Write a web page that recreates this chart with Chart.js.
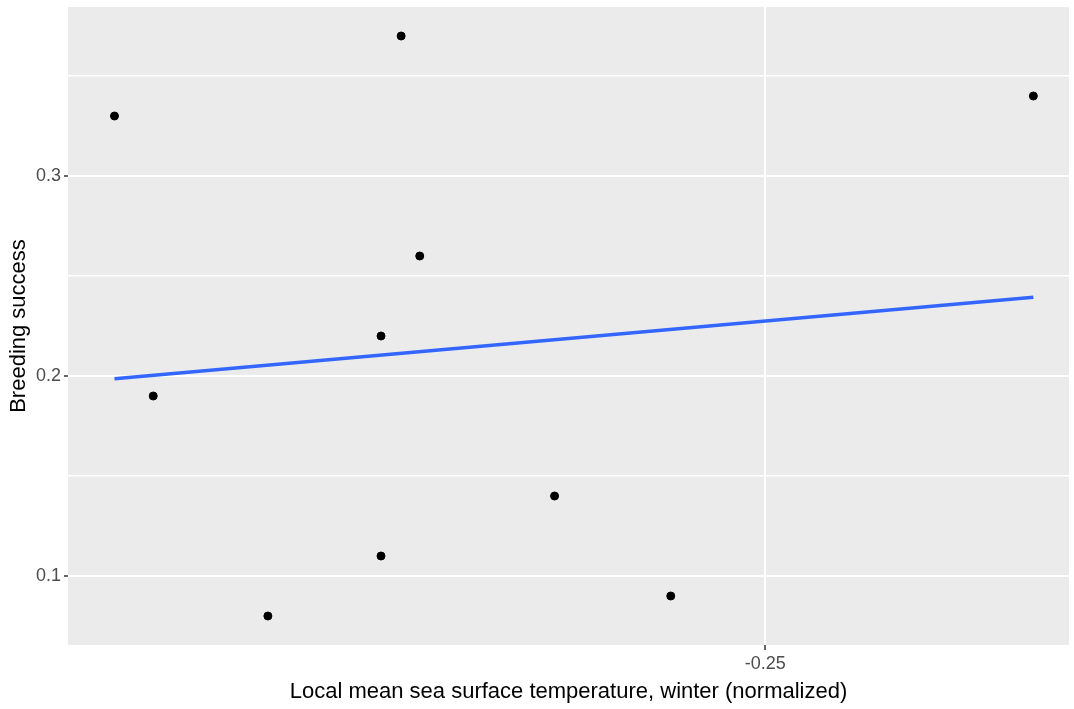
<!DOCTYPE html>
<html>
<head>
<meta charset="utf-8">
<title>Breeding success vs winter SST</title>
<script src="https://cdn.jsdelivr.net/npm/chart.js@4"></script>
<style>
  html, body { margin: 0; padding: 0; background: #fff; }
  #sst-chart { display: block; }
</style>
</head>
<body>
<canvas id="sst-chart" width="1074" height="709"></canvas>
<script>
const ctx = document.getElementById("sst-chart");

// observations: normalized winter SST vs breeding success
const sstWinter = [-0.2920, -0.2895, -0.2821, -0.2748, -0.2748, -0.2735, -0.2723, -0.2636, -0.2561, -0.2327];
const breedingSuccess = [0.33, 0.19, 0.08, 0.22, 0.11, 0.37, 0.26, 0.14, 0.09, 0.34];

// linear fit, ends of the line
const fitX = [-0.2920, -0.2327];
const fitY = [0.1986, 0.2394];

const yMajor = [0.1, 0.2, 0.3];
const yMinor = [0.15, 0.25, 0.35];
const xMajor = [-0.25];

const points = sstWinter.map((x, i) => ({ x: x, y: breedingSuccess[i] }));
const fitLine = fitX.map((x, i) => ({ x: x, y: fitY[i] }));

const isMajorY = v => yMajor.some(m => Math.abs(m - v) < 1e-9);

// grey panel behind the grid, ggplot style
const panelBg = {
    id: "panelBg",
    beforeDraw(chart) {
        const a = chart.chartArea;
        chart.ctx.save();
        chart.ctx.fillStyle = "#EBEBEB";
        chart.ctx.fillRect(a.left, a.top, a.right - a.left, a.bottom - a.top);
        chart.ctx.restore();
    }
};

// no extra room for half tick labels at the panel edges
function noEdgePadding(scale) {
    scale.paddingTop = 0;
    scale.paddingBottom = 0;
    scale.paddingLeft = 0;
    scale.paddingRight = 0;
}

const chart = new Chart(ctx, {
    type: "scatter",
    data: {
        datasets: [
            {
                label: "Breeding success",
                data: points,
                backgroundColor: "#000000",
                borderColor: "#000000",
                pointRadius: 4,
                pointHoverRadius: 4,
                order: 1
            },
            {
                label: "Fit",
                type: "line",
                data: fitLine,
                borderColor: "#3366FF",
                borderWidth: 3.5,
                pointRadius: 0,
                fill: false,
                order: 2
            }
        ]
    },
    options: {
        responsive: false,
        animation: false,
        devicePixelRatio: 1,
        layout: { padding: { top: 7, right: 4, left: 0, bottom: 0 } },
        plugins: {
            legend: { display: false },
            tooltip: { enabled: false }
        },
        scales: {
            x: {
                type: "linear",
                min: -0.295,
                max: -0.2304,
                afterBuildTicks: scale => { scale.ticks = xMajor.map(v => ({ value: v })); },
                afterFit: scale => { scale.height = 64; noEdgePadding(scale); },
                border: { display: false },
                grid: {
                    color: "#FFFFFF",
                    lineWidth: 2,
                    tickLength: 5,
                    tickColor: "#333333",
                    tickWidth: 1.5
                },
                ticks: {
                    autoSkip: false,
                    maxRotation: 0,
                    padding: 3,
                    color: "#4D4D4D",
                    font: { family: "Liberation Sans, Arial, sans-serif", size: 18 },
                    callback: v => v.toFixed(2)
                },
                title: {
                    display: true,
                    text: "Local mean sea surface temperature, winter (normalized)",
                    color: "#000000",
                    font: { family: "Liberation Sans, Arial, sans-serif", size: 22 },
                    padding: { top: 0, bottom: 4 }
                }
            },
            y: {
                type: "linear",
                min: 0.0655,
                max: 0.3845,
                afterBuildTicks: scale => {
                    scale.ticks = yMajor.concat(yMinor).sort((a, b) => a - b).map(v => ({ value: v }));
                },
                afterFit: scale => { scale.width = 68; noEdgePadding(scale); },
                border: { display: false },
                grid: {
                    color: "#FFFFFF",
                    lineWidth: c => (c.tick && isMajorY(c.tick.value)) ? 2 : 1.5,
                    tickLength: 4,
                    tickColor: c => (c.tick && isMajorY(c.tick.value)) ? "#333333" : "rgba(0,0,0,0)",
                    tickWidth: 1.5
                },
                ticks: {
                    autoSkip: false,
                    padding: 3,
                    color: "#4D4D4D",
                    font: { family: "Liberation Sans, Arial, sans-serif", size: 18 },
                    callback: v => isMajorY(v) ? String(Math.round(v * 10) / 10) : ""
                },
                title: {
                    display: true,
                    text: "Breeding success",
                    color: "#000000",
                    font: { family: "Liberation Sans, Arial, sans-serif", size: 22 },
                    padding: { top: 6, bottom: 0 }
                }
            }
        }
    },
    plugins: [panelBg]
});
</script>
</body>
</html>
